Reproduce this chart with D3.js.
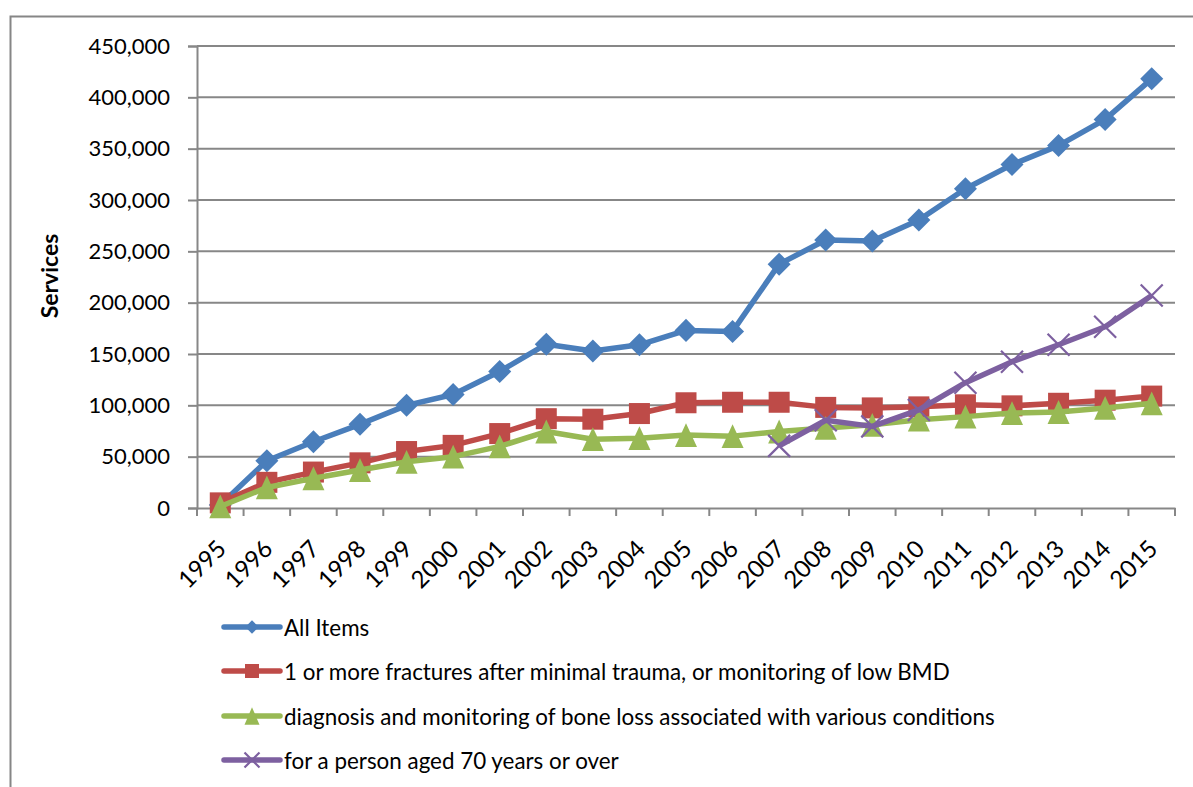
<!DOCTYPE html>
<html>
<head>
<meta charset="utf-8">
<script src="https://cdn.jsdelivr.net/npm/d3@7"></script>
<style>
  body { margin: 0; background: #fff; }
  svg { display: block; font-family: Lato, "Open Sans", sans-serif; }
</style>
</head>
<body>
<div id="plot"></div>
<script>
// data
const years = ["1995","1996","1997","1998","1999","2000","2001","2002","2003","2004",
               "2005","2006","2007","2008","2009","2010","2011","2012","2013","2014","2015"];
const allItems = [3000, 46000, 64500, 81500, 100000, 110500, 133000, 159500, 153000, 159000,
                  173000, 172000, 237500, 261000, 260000, 280500, 311000, 334500, 353000, 378500, 418000];
const fractures = [5000, 25000, 35000, 44000, 55000, 61000, 72500, 87000, 86500, 92000,
                   102500, 103000, 103000, 98000, 97500, 98500, 100500, 99500, 102000, 105000, 109000];
const boneLoss = [1500, 20000, 29000, 37000, 45000, 50000, 60000, 74500, 67000, 68000,
                  71000, 70000, 74500, 78000, 81000, 86000, 89000, 92500, 93500, 97500, 102000];
const aged70 = [null, null, null, null, null, null, null, null, null, null,
                null, null, 60500, 85500, 79500, 95500, 122000, 142500, 159000, 176500, 207000];
const seriesNames = ["All Items",
  "1 or more fractures after minimal trauma, or monitoring of low BMD",
  "diagnosis and monitoring of bone loss associated with various conditions",
  "for a person aged 70 years or over"];
const yTicks = [0, 50000, 100000, 150000, 200000, 250000, 300000, 350000, 400000, 450000];

const series = [
  {name: seriesNames[0], values: allItems, color: "#4a7ebb", marker: "diamond"},
  {name: seriesNames[1], values: fractures, color: "#be4b48", marker: "square"},
  {name: seriesNames[2], values: boneLoss, color: "#98b954", marker: "triangle"},
  {name: seriesNames[3], values: aged70, color: "#7d60a0", marker: "cross"}
];

const W = 1193, H = 787;
const margin = {left: 197, right: 18, top: 46, bottom: 279};

const svg = d3.select("#plot").append("svg")
    .attr("width", W).attr("height", H);

// outer chart border (runs off the right/bottom edges)
svg.append("rect")
    .attr("x", 10.5).attr("y", 16.5)
    .attr("width", W + 20).attr("height", H + 20)
    .attr("fill", "none").attr("stroke", "#868686").attr("stroke-width", 2);

const x = d3.scaleBand().domain(years).range([margin.left, W - margin.right]);
const y = d3.scaleLinear().domain([0, 450000]).range([H - margin.bottom, margin.top]);

const grey = "#878787";

// gridlines
svg.append("g").selectAll("line")
    .data(yTicks.filter(d => d > 0))
    .enter().append("line")
    .attr("x1", margin.left).attr("x2", W - margin.right)
    .attr("y1", d => y(d)).attr("y2", d => y(d))
    .attr("stroke", grey).attr("stroke-width", 2);

// y axis
const yAxis = svg.append("g")
    .attr("transform", "translate(" + margin.left + ",0)")
    .call(d3.axisLeft(y).tickValues(yTicks).tickSize(9).tickPadding(18)
        .tickFormat(d3.format(",")));
yAxis.select(".domain").attr("stroke", grey).attr("stroke-width", 2);
yAxis.selectAll(".tick line").attr("stroke", grey).attr("stroke-width", 2);
yAxis.selectAll("text").attr("font-size", 22).attr("fill", "#000")
    .attr("font-family", "Lato, sans-serif");

// x axis
const xAxis = svg.append("g")
    .attr("transform", "translate(0," + y(0) + ")")
    .call(d3.axisBottom(x).tickSize(0).tickFormat(""));
xAxis.select(".domain").attr("stroke", grey).attr("stroke-width", 2);
// ticks between categories
svg.append("g").selectAll("line")
    .data(d3.range(years.length + 1))
    .enter().append("line")
    .attr("x1", i => margin.left + i * x.step())
    .attr("x2", i => margin.left + i * x.step())
    .attr("y1", y(0)).attr("y2", y(0) + 8)
    .attr("stroke", grey).attr("stroke-width", 2);

svg.append("g").selectAll("text")
    .data(years)
    .enter().append("text")
    .attr("transform", d => "translate(" + (x(d) + x.bandwidth() / 2 + 3) + "," + (y(0) + 38) + ") rotate(-45)")
    .attr("text-anchor", "end")
    .attr("dominant-baseline", "middle")
    .attr("font-size", 24)
    .text(d => d);

// y axis title
svg.append("text")
    .attr("transform", "translate(58,276) rotate(-90)")
    .attr("text-anchor", "middle")
    .attr("font-size", 23).attr("font-weight", "bold")
    .text("Services");

const cx = d => x(d) + x.bandwidth() / 2;

function drawMarker(g, type, color, s) {
  if (type === "diamond") {
    g.append("path").attr("d", d3.symbol(d3.symbolDiamond2, s * s * 0.5)())
      .attr("fill", color);
  } else if (type === "square") {
    g.append("rect").attr("x", -s / 2).attr("y", -s / 2).attr("width", s).attr("height", s)
      .attr("fill", color);
  } else if (type === "triangle") {
    const h = s * 0.9;
    g.append("path").attr("d", "M0," + (-h / 2 - 2) + "L" + (s / 2) + "," + (h / 2 + 2) + "L" + (-s / 2) + "," + (h / 2 + 2) + "Z")
      .attr("fill", color);
  } else if (type === "cross") {
    const r = s / 2;
    g.append("path").attr("d", "M" + (-r) + "," + (-r) + "L" + r + "," + r + "M" + (-r) + "," + r + "L" + r + "," + (-r))
      .attr("stroke", color).attr("stroke-width", 2.2).attr("fill", "none");
  }
}

// lines and markers
series.forEach(s => {
  const pts = years.map((yr, i) => ({yr: yr, v: s.values[i]})).filter(p => p.v != null);
  svg.append("path")
    .datum(pts)
    .attr("fill", "none")
    .attr("stroke", s.color)
    .attr("stroke-width", 5.5)
    .attr("stroke-linejoin", "round")
    .attr("d", d3.line().x(p => cx(p.yr)).y(p => y(p.v)));
  pts.forEach(p => {
    const g = svg.append("g").attr("transform", "translate(" + cx(p.yr) + "," + y(p.v) + ")");
    drawMarker(g, s.marker, s.color, s.marker === "diamond" ? 26 : (s.marker === "square" ? 21 : 22));
  });
});

// legend
const legendY = [627, 671, 716, 760];
series.forEach((s, i) => {
  const g = svg.append("g").attr("transform", "translate(0," + legendY[i] + ")");
  g.append("line").attr("x1", 224).attr("x2", 280).attr("y1", 0).attr("y2", 0)
    .attr("stroke", s.color).attr("stroke-width", 5.5).attr("stroke-linecap", "round");
  const m = g.append("g").attr("transform", "translate(252,0)");
  drawMarker(m, s.marker, s.color, s.marker === "square" ? 14 : 15);
  g.append("text").attr("x", 284).attr("y", 0)
    .attr("dominant-baseline", "central")
    .attr("font-size", 22.4)
    .text(s.name);
});
</script>
</body>
</html>
